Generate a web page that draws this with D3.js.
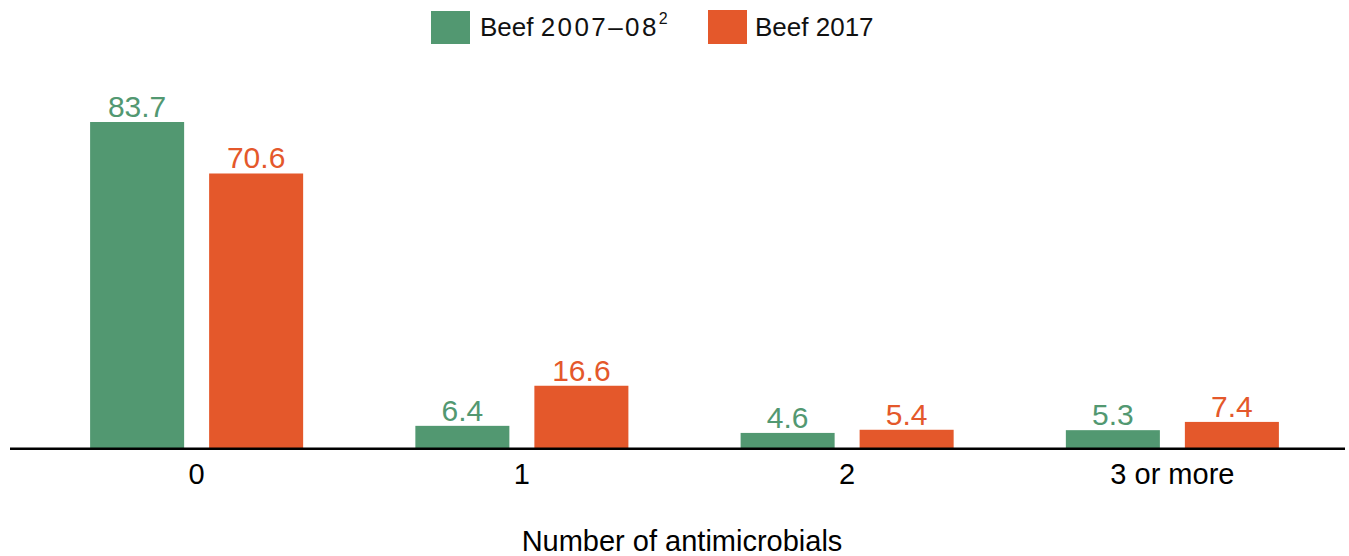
<!DOCTYPE html>
<html>
<head>
<meta charset="utf-8">
<script src="https://cdn.jsdelivr.net/npm/d3@7"></script>
<style>
  html, body { margin: 0; padding: 0; background: #fff; }
  svg { display: block; font-family: "Liberation Sans", Arial, sans-serif; }
</style>
</head>
<body>
<svg id="chart" width="1349" height="556"></svg>
<script>
// Share of samples by number of antimicrobials, two survey periods
const categories = ["0", "1", "2", "3 or more"];
const seriesNames = ["Beef 2007\u201308", "Beef 2017"];
const beef2007 = [83.7, 6.4, 4.6, 5.3];
const beef2017 = [70.6, 16.6, 5.4, 7.4];
const colors = ["#529871", "#E4582B"];
const xTitle = "Number of antimicrobials";

const series = [beef2007, beef2017];
const svg = d3.select("#chart");

const axisY = 448;
const x0 = d3.scaleBand().domain(categories).range([34, 1335])
  .paddingInner(0.345).paddingOuter(0.1725);
const x1 = d3.scaleBand().domain(d3.range(series.length))
  .range([0, x0.bandwidth()]).paddingInner(0.21).paddingOuter(0);
// zero sits just under the axis rule
const y = d3.scaleLinear().domain([0, 83.7]).range([451, 122]);

// bars
const groups = svg.append("g").selectAll("g")
  .data(categories)
  .join("g")
  .attr("transform", d => `translate(${x0(d)},0)`);

groups.selectAll("rect")
  .data((d, i) => series.map((s, k) => ({ k, v: s[i] })))
  .join("rect")
  .attr("x", d => x1(d.k))
  .attr("width", x1.bandwidth())
  .attr("y", d => y(d.v))
  .attr("height", d => axisY - y(d.v))
  .attr("fill", d => colors[d.k]);

groups.selectAll("text")
  .data((d, i) => series.map((s, k) => ({ k, v: s[i] })))
  .join("text")
  .attr("x", d => x1(d.k) + x1.bandwidth() / 2)
  .attr("y", d => y(d.v) - 5)
  .attr("text-anchor", "middle")
  .attr("font-size", 30)
  .attr("fill", d => colors[d.k])
  .text(d => d.v.toFixed(1));

// x axis
const axis = svg.append("g")
  .attr("transform", `translate(0,${axisY})`)
  .call(d3.axisBottom(x0).tickSize(0).tickPadding(0));
axis.select(".domain").remove();
axis.selectAll(".tick text")
  .attr("font-family", "Liberation Sans, Arial, sans-serif")
  .attr("font-size", 29)
  .attr("fill", "#000")
  .attr("dy", null)
  .attr("y", 36);
svg.append("line")
  .attr("x1", 10).attr("x2", 1345)
  .attr("y1", axisY + 0.7).attr("y2", axisY + 0.7)
  .attr("stroke", "#000").attr("stroke-width", 2.6);

svg.append("text")
  .attr("x", 682).attr("y", 551)
  .attr("text-anchor", "middle")
  .attr("font-size", 29)
  .attr("fill", "#000")
  .text(xTitle);

// legend
const legend = svg.append("g");
legend.append("rect").attr("x", 431).attr("y", 11).attr("width", 39).attr("height", 33).attr("fill", colors[0]);
const t1 = legend.append("text").attr("x", 480).attr("y", 36).attr("font-size", 26).attr("fill", "#111");
t1.append("tspan").text("Beef ");
t1.append("tspan").attr("letter-spacing", 2.4).text("2007\u201308");
t1.append("tspan").attr("font-size", 16).attr("dy", -12).text("2");
legend.append("rect").attr("x", 708).attr("y", 10).attr("width", 39).attr("height", 34).attr("fill", colors[1]);
legend.append("text").attr("x", 755).attr("y", 36).attr("font-size", 26).attr("fill", "#111").text(seriesNames[1]);
</script>
</body>
</html>
